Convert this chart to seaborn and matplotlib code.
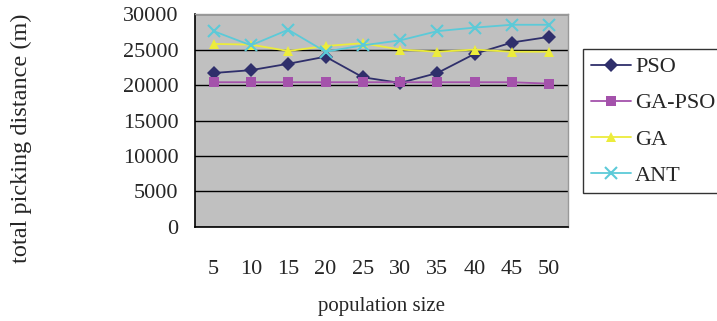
import matplotlib
matplotlib.use("Agg")
import matplotlib.pyplot as plt
import seaborn as sns
import pandas as pd

# values
pop_size = ["5", "10", "15", "20", "25", "30", "35", "40", "45", "50"]
pso = [21700, 22100, 23000, 24000, 21100, 20300, 21700, 24400, 26000, 26800]
ga_pso = [20400, 20400, 20400, 20400, 20400, 20400, 20400, 20400, 20400, 20200]
ga = [25800, 25700, 24800, 25500, 25900, 25000, 24700, 25000, 24700, 24700]
ant = [27600, 25600, 27800, 24700, 25600, 26300, 27600, 28100, 28500, 28500]

series = {"PSO": pso, "GA-PSO": ga_pso, "GA": ga, "ANT": ant}
colors = {"PSO": "#2f2f6b", "GA-PSO": "#a452ab", "GA": "#ecec3c", "ANT": "#5ccad8"}
markers = {"PSO": "D", "GA-PSO": "s", "GA": "^", "ANT": "x"}

rows = []
for name, vals in series.items():
    for p, v in zip(pop_size, vals):
        rows.append({"pop": p, "dist": v, "alg": name})
df = pd.DataFrame(rows)

sns.set_style("white")
plt.rcParams["font.family"] = ["Liberation Serif", "DejaVu Serif"]

fig = plt.figure(figsize=(7.17, 3.21), dpi=100)
ax = fig.add_axes([0.272, 0.293, 0.52, 0.663])
ax.set_facecolor("#c0c0c0")

for name in series:
    sub = df[df.alg == name]
    sns.lineplot(data=sub, x="pop", y="dist", ax=ax, color=colors[name],
                 marker=markers[name], markersize=7 if name != "ANT" else 8,
                 markeredgewidth=0 if name != "ANT" else 1.5,
                 markeredgecolor=colors[name],
                 linewidth=1.3, label=name, sort=False)

ax.set_xlim(-0.5, len(pop_size) - 0.5)
ax.set_ylim(0, 30000)
ax.set_yticks(range(0, 30001, 5000))
ax.set_xticks([i + 0.5 for i in range(-1, len(pop_size))], minor=False)
ax.set_xticklabels([])
ax.set_xticks(range(len(pop_size)), minor=True)
ax.set_xticklabels(pop_size, minor=True)
ax.tick_params(axis="x", which="major", direction="in", length=4, width=1, color="black")
ax.tick_params(axis="x", which="minor", length=0, labelsize=16, pad=24)
ax.tick_params(axis="y", direction="in", length=6, width=1, labelsize=16, pad=12)
ax.yaxis.grid(True, color="black", linewidth=1)
ax.set_axisbelow(True)

for side in ["left", "bottom"]:
    ax.spines[side].set_color("black")
    ax.spines[side].set_linewidth(1.2)
for side in ["top", "right"]:
    ax.spines[side].set_color("#999999")
    ax.spines[side].set_linewidth(1)

ax.set_xlabel("population size", fontsize=15)
ax.xaxis.set_label_coords(0.5, -0.33)
ax.set_ylabel("total picking distance (m)", fontsize=17.5)
ax.yaxis.set_label_coords(-0.437, 0.418)

leg = ax.legend(loc="upper left", bbox_to_anchor=(583 / 717, 1 - 49 / 321), bbox_transform=fig.transFigure,
                frameon=True, fancybox=False, fontsize=16, handlelength=1.8,
                handletextpad=0.2, borderpad=0.35, labelspacing=0.7, borderaxespad=0)
leg.get_frame().set_edgecolor("black")
leg.get_frame().set_linewidth(1)

fig.savefig("out.png", dpi=100)
